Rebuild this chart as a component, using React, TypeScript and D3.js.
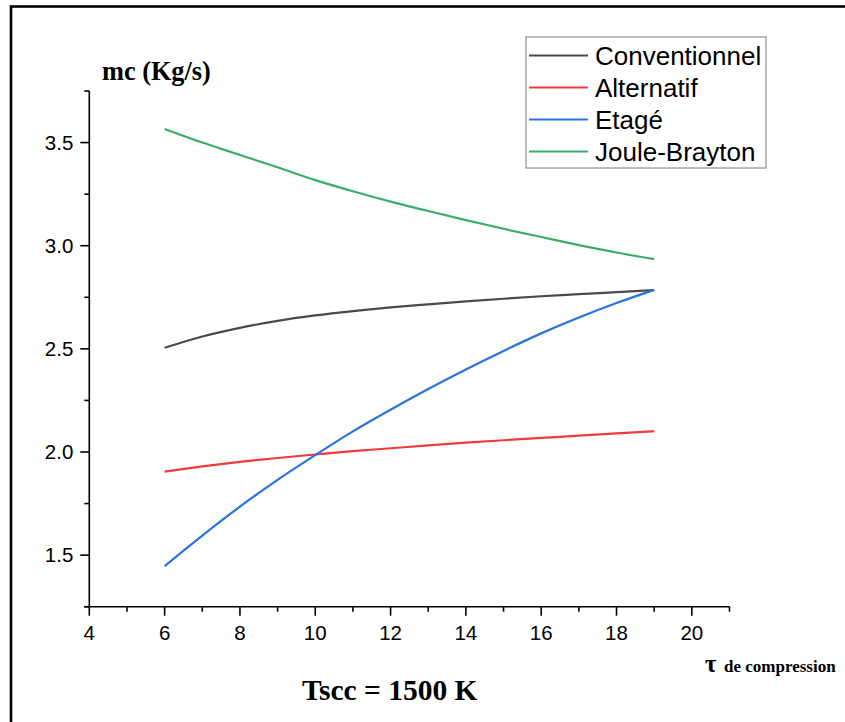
import React from "react";
import * as d3 from "d3";

// Pression ratio (τ de compression)
const tau = [6, 7, 8, 9, 10, 11, 12, 13, 14, 15, 16, 17, 18, 19];

// Débit massique mc (Kg/s) per cycle
const conventionnel = [2.505, 2.56, 2.602, 2.636, 2.662, 2.683, 2.701, 2.716, 2.73, 2.743, 2.755, 2.765, 2.775, 2.785];
const alternatif = [1.905, 1.93, 1.952, 1.971, 1.988, 2.004, 2.018, 2.032, 2.045, 2.057, 2.068, 2.079, 2.09, 2.101];
const etage = [1.447, 1.595, 1.735, 1.865, 1.985, 2.1, 2.205, 2.305, 2.4, 2.49, 2.575, 2.652, 2.722, 2.786];
const jouleBrayton = [3.566, 3.5, 3.44, 3.38, 3.318, 3.264, 3.214, 3.168, 3.124, 3.082, 3.042, 3.003, 2.967, 2.935];

const seriesNames = ["Conventionnel", "Alternatif", "Etagé", "Joule-Brayton"];
const seriesValues = [conventionnel, alternatif, etage, jouleBrayton];
const seriesColors = ["#4a4a4a", "#f03a3c", "#2a74e0", "#3aae68"];

const xMajorTicks = [4, 6, 8, 10, 12, 14, 16, 18, 20];
const yMajorTicks = [1.5, 2.0, 2.5, 3.0, 3.5];

const W = 845;
const H = 722;

export default function App() {
  const x = d3.scaleLinear().domain([4, 21]).range([89.3, 729.5]);
  const y = d3.scaleLinear().domain([1.25, 3.75]).range([606.7, 91]);

  const xMinor = d3.range(5, 22, 2);
  const yMinor = d3.range(1.25, 3.76, 0.5);

  const line = d3
    .line<[number, number]>()
    .x((d) => x(d[0]))
    .y((d) => y(d[1]))
    .curve(d3.curveMonotoneX);

  const sans = "'Liberation Sans', Arial, sans-serif";
  const serif = "'Liberation Serif', 'Times New Roman', serif";

  const legendX = 526;
  const legendY = 37;
  const rowH = 32;

  return (
    <svg
      width={W}
      height={H}
      style={{ position: "absolute", left: 0, top: 0, background: "#fff" }}
    >
      <rect x={0} y={0} width={W} height={H} fill="#fff" />
      {/* outer frame */}
      <rect x={11} y={6.5} width={1000} height={1000} fill="none" stroke="#000" strokeWidth={2.6} />

      {/* curves */}
      {seriesValues.map((vals, i) => (
        <path
          key={seriesNames[i]}
          d={line(tau.map((t, j) => [t, vals[j]] as [number, number])) || ""}
          fill="none"
          stroke={seriesColors[i]}
          strokeWidth={2.2}
        />
      ))}

      {/* y axis */}
      <line x1={x(4)} x2={x(4)} y1={y(3.75)} y2={y(1.25)} stroke="#000" strokeWidth={1.6} />
      {yMajorTicks.map((v) => (
        <g key={"ym" + v}>
          <line x1={x(4) - 9} x2={x(4)} y1={y(v)} y2={y(v)} stroke="#000" strokeWidth={1.6} />
          <text
            x={x(4) - 16}
            y={y(v)}
            dy="0.35em"
            textAnchor="end"
            fontFamily={sans}
            fontSize={20.5}
            fill="#000"
          >
            {d3.format(".1f")(v)}
          </text>
        </g>
      ))}
      {yMinor.map((v) => (
        <line key={"yn" + v} x1={x(4) - 5} x2={x(4)} y1={y(v)} y2={y(v)} stroke="#000" strokeWidth={1.6} />
      ))}

      {/* x axis */}
      <line x1={x(4) - 5} x2={x(21)} y1={y(1.25)} y2={y(1.25)} stroke="#000" strokeWidth={1.6} />
      {xMajorTicks.map((v) => (
        <g key={"xm" + v}>
          <line x1={x(v)} x2={x(v)} y1={y(1.25)} y2={y(1.25) + 9} stroke="#000" strokeWidth={1.6} />
          <text
            x={x(v)}
            y={640}
            textAnchor="middle"
            fontFamily={sans}
            fontSize={20.5}
            fill="#000"
          >
            {v}
          </text>
        </g>
      ))}
      {xMinor.map((v) => (
        <line key={"xn" + v} x1={x(v)} x2={x(v)} y1={y(1.25)} y2={y(1.25) + 5} stroke="#000" strokeWidth={1.6} />
      ))}

      {/* axis titles */}
      <text x={102} y={80} fontFamily={serif} fontWeight="bold" fontSize={26.3} fill="#000">
        mc (Kg/s)
      </text>
      <text x={705} y={672} fontFamily={serif} fontWeight="bold" fill="#000">
        <tspan fontSize={25}>τ</tspan>
        <tspan x={724} fontSize={17}>de compression</tspan>
      </text>
      <text x={302} y={700} fontFamily={serif} fontWeight="bold" fontSize={29.5} fill="#000">
        Tscc = 1500 K
      </text>

      {/* legend */}
      <rect
        x={legendX}
        y={legendY}
        width={240}
        height={131}
        fill="#fff"
        stroke="#7a7a7a"
        strokeWidth={1}
      />
      {seriesNames.map((name, i) => {
        const cy = legendY + 18.5 + i * rowH;
        return (
          <g key={"lg" + name}>
            <line x1={529} x2={588} y1={cy} y2={cy} stroke={seriesColors[i]} strokeWidth={2.2} />
            <text x={595} y={cy} dy="0.35em" fontFamily={sans} fontSize={26} fill="#000">
              {name}
            </text>
          </g>
        );
      })}
    </svg>
  );
}
